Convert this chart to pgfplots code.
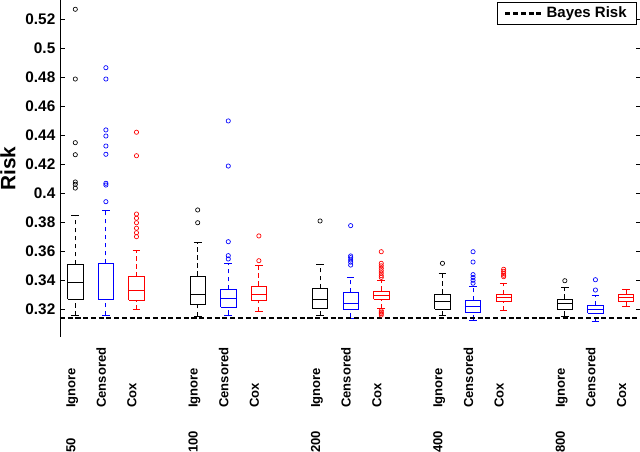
\documentclass[border=0pt]{standalone}
\usepackage{pgfplots}
\pgfplotsset{compat=1.18}
\usepackage{fontspec}
\setmainfont{Liberation Sans}

% one box: colour, position, lower whisker, q1, median, q3, upper whisker
\newcommand{\bx}[7]{%
  \pgfmathsetmacro\bxL{#2-0.25}%
  \pgfmathsetmacro\bxR{#2+0.25}%
  \pgfmathsetmacro\bxA{#2-0.125}%
  \pgfmathsetmacro\bxB{#2+0.125}%
  \edef\bxcmd{%
    \noexpand\addplot[#1, line width=0.6pt, mark=none, forget plot]
      coordinates {(\bxL,#4) (\bxR,#4) (\bxR,#6) (\bxL,#6) (\bxL,#4)};
    \noexpand\addplot[#1, line width=0.6pt, mark=none, forget plot]
      coordinates {(\bxL,#5) (\bxR,#5)};
    \noexpand\addplot[#1, line width=0.6pt, mark=none, forget plot, dash pattern=on 3.5pt off 2.5pt]
      coordinates {(#2,#3) (#2,#4)};
    \noexpand\addplot[#1, line width=0.6pt, mark=none, forget plot, dash pattern=on 3.5pt off 2.5pt]
      coordinates {(#2,#6) (#2,#7)};
    \noexpand\addplot[#1, line width=0.6pt, mark=none, forget plot]
      coordinates {(\bxA,#3) (\bxB,#3)};
    \noexpand\addplot[#1, line width=0.6pt, mark=none, forget plot]
      coordinates {(\bxA,#7) (\bxB,#7)};
  }\bxcmd}
\pgfplotsset{out/.style={only marks, mark=o, mark size=1.6pt, line width=0.5pt, forget plot}}

\begin{document}
\begin{tikzpicture}
\begin{axis}[
    name=ax,
    scale only axis,
    width=436pt, height=252.75pt,
    xmin=0.5, xmax=19.5,
    ymin=0.3009, ymax=0.5333,
    clip=false,
    axis line style={draw=none},
    ytick={0.32,0.34,0.36,0.38,0.4,0.42,0.44,0.46,0.48,0.5,0.52},
    ytick pos=both, yticklabel pos=left,
    tick align=inside,
    major tick length=4pt,
    tick style={black, line width=0.6pt},
    major x tick style={draw=none},
    /pgf/number format/assume math mode=true,
    yticklabel style={font=\bfseries\fontsize{11.5}{13}\selectfont},
    xtick={1,2,3,5,6,7,9,10,11,13,14,15,17,18,19},
    xticklabels={Ignore,Censored,Cox,Ignore,Censored,Cox,Ignore,Censored,Cox,Ignore,Censored,Cox,Ignore,Censored,Cox},
    xticklabel style={font=\bfseries\fontsize{9.8}{11}\selectfont, inner sep=0pt,
      anchor=base west, yshift=-53.25pt, rotate=90},
    legend style={at={(1,1)}, anchor=north east, xshift=-3.75pt, yshift=-1.5pt,
      draw=black, line width=0.5pt, inner xsep=5pt, inner ysep=1.5pt,
      font=\bfseries\fontsize{11.25}{13}\selectfont},
    legend image code/.code={
      \draw[#1] (0pt,0pt) -- (28pt,0pt);
    },
  ]

  % n = 50
  \bx{black}{1}{0.3156}{0.3269}{0.3388}{0.3510}{0.3848}
  \addplot[black, out] coordinates {(1,0.5269) (1,0.4788) (1,0.4349) (1,0.4266) (1,0.4078) (1,0.4062) (1,0.4036)};
  \bx{blue}{2}{0.3159}{0.3269}{0.3271}{0.3517}{0.3880}
  \addplot[blue, out] coordinates {(2,0.4866) (2,0.4788) (2,0.4437) (2,0.4395) (2,0.4326) (2,0.4269) (2,0.4069) (2,0.4057) (2,0.3942)};
  \bx{red}{3}{0.3198}{0.3262}{0.3328}{0.3425}{0.3609}
  \addplot[red, out] coordinates {(3,0.4421) (3,0.4259) (3,0.3857) (3,0.3828) (3,0.3797) (3,0.3759) (3,0.3728) (3,0.3701)};

  % n = 100
  \bx{black}{5}{0.3152}{0.3234}{0.3303}{0.3430}{0.3659}
  \addplot[black, out] coordinates {(5,0.3885) (5,0.3797)};
  \bx{blue}{6}{0.3161}{0.3214}{0.3276}{0.3338}{0.3514}
  \addplot[blue, out] coordinates {(6,0.4499) (6,0.4188) (6,0.3666) (6,0.3570) (6,0.3547)};
  \bx{red}{7}{0.3186}{0.3264}{0.3301}{0.3361}{0.3506}
  \addplot[red, out] coordinates {(7,0.3706) (7,0.3535)};

  % n = 200
  \bx{black}{9}{0.3158}{0.3207}{0.3269}{0.3345}{0.3510}
  \addplot[black, out] coordinates {(9,0.3809)};
  \bx{blue}{10}{0.3140}{0.3200}{0.3244}{0.3317}{0.3420}
  \addplot[blue, out] coordinates {(10,0.3777) (10,0.3568) (10,0.3556) (10,0.3540) (10,0.3525) (10,0.3505)};
  \bx{red}{11}{0.3205}{0.3269}{0.3295}{0.3326}{0.3398}
  \addplot[red, out] coordinates {(11,0.3597) (11,0.3517) (11,0.3500) (11,0.3483) (11,0.3466) (11,0.3450) (11,0.3432) (11,0.3420) (11,0.3190) (11,0.3180) (11,0.3170) (11,0.3160)};

  % n = 400
  \bx{black}{13}{0.3156}{0.3202}{0.3253}{0.3306}{0.3448}
  \addplot[black, out] coordinates {(13,0.3517)};
  \bx{blue}{14}{0.3126}{0.3180}{0.3218}{0.3262}{0.3358}
  \addplot[blue, out] coordinates {(14,0.3597) (14,0.3526) (14,0.3439) (14,0.3420) (14,0.3400) (14,0.3380)};
  \bx{red}{15}{0.3190}{0.3257}{0.3280}{0.3303}{0.3379}
  \addplot[red, out] coordinates {(15,0.3476) (15,0.3462) (15,0.3448) (15,0.3435) (15,0.3425)};

  % n = 800
  \bx{black}{17}{0.3154}{0.3200}{0.3243}{0.3271}{0.3352}
  \addplot[black, out] coordinates {(17,0.3397)};
  \bx{blue}{18}{0.3117}{0.3172}{0.3197}{0.3228}{0.3296}
  \addplot[blue, out] coordinates {(18,0.3404) (18,0.3333)};
  \bx{red}{19}{0.3218}{0.3254}{0.3280}{0.3304}{0.3336}

  % Bayes risk
  \addplot[black, line width=1.8pt, mark=none, dash pattern=on 3.8pt off 2pt]
    coordinates {(0.5,0.3138) (19.5,0.3138)};
  \addlegendentry{Bayes Risk}

  \draw[black, line width=0.6pt] (rel axis cs:0,0) -- (rel axis cs:0,1);

  \node[rotate=90, anchor=north, inner sep=0pt,
    font=\bfseries\fontsize{15.6}{18}\selectfont]
    at (rel axis cs:-0.1032,0.5) {Risk};

  \node[rotate=90, anchor=base west, inner sep=0pt, font=\bfseries\fontsize{9.8}{11}\selectfont]
    at (rel axis cs:0.02632,-0.3442) {50};
  \node[rotate=90, anchor=base west, inner sep=0pt, font=\bfseries\fontsize{9.8}{11}\selectfont]
    at (rel axis cs:0.23684,-0.3442) {100};
  \node[rotate=90, anchor=base west, inner sep=0pt, font=\bfseries\fontsize{9.8}{11}\selectfont]
    at (rel axis cs:0.44737,-0.3442) {200};
  \node[rotate=90, anchor=base west, inner sep=0pt, font=\bfseries\fontsize{9.8}{11}\selectfont]
    at (rel axis cs:0.65789,-0.3442) {400};
  \node[rotate=90, anchor=base west, inner sep=0pt, font=\bfseries\fontsize{9.8}{11}\selectfont]
    at (rel axis cs:0.86842,-0.3442) {800};
\end{axis}
\pgfresetboundingbox
\path[use as bounding box] ([xshift=-45pt,yshift=-86.25pt]ax.south west)
  rectangle ([xshift=435pt]ax.north west);
\end{tikzpicture}
\end{document}
